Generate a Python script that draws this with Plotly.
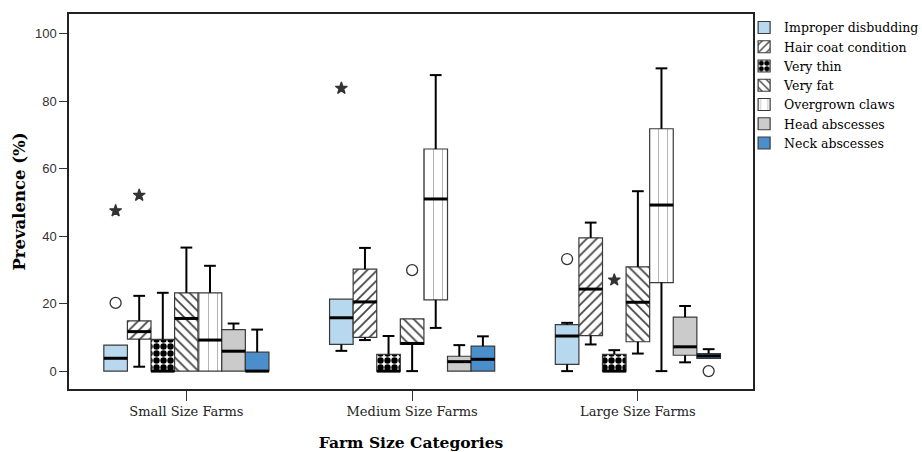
import plotly.graph_objects as go

# Farm size groups on the x axis
groups = ["Small Size Farms", "Medium Size Farms", "Large Size Farms"]

# Conditions (one box per condition in each group)
conditions = ["Improper disbudding", "Hair coat condition", "Very thin", "Very fat",
              "Overgrown claws", "Head abscesses", "Neck abscesses"]

# Box statistics per condition, ordered Small, Medium, Large
lower = {
    "Improper disbudding": [0.0, 6.0, 0.0],
    "Hair coat condition": [1.3, 9.2, 7.9],
    "Very thin":           [0.0, 0.0, 0.0],
    "Very fat":            [0.0, 0.0, 5.2],
    "Overgrown claws":     [0.0, 12.8, 0.0],
    "Head abscesses":      [0.0, 0.0, 2.6],
    "Neck abscesses":      [0.0, 0.0, 3.8],
}
q1 = {
    "Improper disbudding": [0.0, 7.9, 2.0],
    "Hair coat condition": [9.5, 10.0, 10.5],
    "Very thin":           [0.0, 0.0, 0.0],
    "Very fat":            [0.0, 8.0, 8.7],
    "Overgrown claws":     [0.0, 21.1, 26.2],
    "Head abscesses":      [0.0, 0.0, 4.7],
    "Neck abscesses":      [0.0, 0.0, 3.8],
}
median = {
    "Improper disbudding": [3.8, 15.8, 10.4],
    "Hair coat condition": [11.7, 20.5, 24.3],
    "Very thin":           [0.0, 0.0, 0.0],
    "Very fat":            [15.6, 8.2, 20.4],
    "Overgrown claws":     [9.2, 51.0, 49.2],
    "Head abscesses":      [5.9, 2.8, 7.2],
    "Neck abscesses":      [0.0, 3.5, 4.5],
}
q3 = {
    "Improper disbudding": [7.7, 21.3, 13.8],
    "Hair coat condition": [14.9, 30.2, 39.5],
    "Very thin":           [9.4, 5.0, 5.0],
    "Very fat":            [23.2, 15.5, 30.9],
    "Overgrown claws":     [23.2, 65.8, 71.8],
    "Head abscesses":      [12.3, 4.4, 16.0],
    "Neck abscesses":      [5.6, 7.4, 5.2],
}
upper = {
    "Improper disbudding": [7.7, 21.3, 14.3],
    "Hair coat condition": [22.3, 36.5, 44.0],
    "Very thin":           [23.2, 10.4, 6.2],
    "Very fat":            [36.6, 15.5, 53.3],
    "Overgrown claws":     [31.2, 87.7, 89.7],
    "Head abscesses":      [14.1, 7.7, 19.3],
    "Neck abscesses":      [12.3, 10.3, 6.5],
}

# Outliers: condition, group index, value, kind
out_condition = ["Improper disbudding", "Improper disbudding", "Hair coat condition",
                 "Improper disbudding", "Very fat",
                 "Improper disbudding", "Very thin", "Neck abscesses"]
out_group = [0, 0, 0, 1, 1, 2, 2, 2]
out_value = [20.2, 47.5, 52.1, 83.8, 29.9, 33.2, 27.0, 0.0]
out_kind = ["circle", "star", "star", "star", "circle", "circle", "star", "circle"]

# Fill styles for each condition
styles = {
    "Improper disbudding": dict(color="#b7d8ef", pattern=dict(shape="")),
    "Hair coat condition": dict(color="white", pattern=dict(shape="/", fgcolor="#444", bgcolor="white",
                                                           size=7, solidity=0.25, fillmode="replace")),
    "Very thin":           dict(color="white", pattern=dict(shape=".", fgcolor="black", bgcolor="white",
                                                           size=7, solidity=0.65, fillmode="replace")),
    "Very fat":            dict(color="white", pattern=dict(shape="\\", fgcolor="#444", bgcolor="white",
                                                           size=7, solidity=0.25, fillmode="replace")),
    "Overgrown claws":     dict(color="white", pattern=dict(shape="|", fgcolor="#aaa", bgcolor="white",
                                                           size=9, solidity=0.1, fillmode="replace")),
    "Head abscesses":      dict(color="#cbcbcb", pattern=dict(shape="")),
    "Neck abscesses":      dict(color="#4a8fcb", pattern=dict(shape="")),
}

SERIF = "DejaVu Serif"
BOX_W = 0.1045
CAP = 0.026
n = len(conditions)

fig = go.Figure()

for i, c in enumerate(conditions):
    xs = [g + (i - (n - 1) / 2) * BOX_W for g in range(len(groups))]
    st = styles[c]
    fig.add_trace(go.Bar(
        x=xs, base=q1[c], y=[b - a for a, b in zip(q1[c], q3[c])], width=BOX_W,
        name=c,
        marker=dict(color=st["color"], pattern=st["pattern"],
                    line=dict(color="#3a3a3a", width=1.2)),
        hoverinfo="skip",
    ))

for i, c in enumerate(conditions):
    xs = [g + (i - (n - 1) / 2) * BOX_W for g in range(len(groups))]
    wx, wy, mx, my = [], [], [], []
    for k, x in enumerate(xs):
        if upper[c][k] > q3[c][k]:
            wx += [x, x, None, x - CAP, x + CAP, None]
            wy += [q3[c][k], upper[c][k], None, upper[c][k], upper[c][k], None]
        if lower[c][k] < q1[c][k]:
            wx += [x, x, None, x - CAP, x + CAP, None]
            wy += [q1[c][k], lower[c][k], None, lower[c][k], lower[c][k], None]
        mx += [x - BOX_W / 2, x + BOX_W / 2, None]
        my += [median[c][k], median[c][k], None]
    fig.add_trace(go.Scatter(x=wx, y=wy, mode="lines", line=dict(color="black", width=2),
                             showlegend=False, hoverinfo="skip"))
    fig.add_trace(go.Scatter(x=mx, y=my, mode="lines", line=dict(color="black", width=3),
                             showlegend=False, hoverinfo="skip"))

ox = [g + (conditions.index(c) - (n - 1) / 2) * BOX_W for c, g in zip(out_condition, out_group)]
for kind, sym, size in [("circle", "circle-open", 11), ("star", "star", 9)]:
    sel = [j for j, k in enumerate(out_kind) if k == kind]
    fig.add_trace(go.Scatter(
        x=[ox[j] for j in sel], y=[out_value[j] for j in sel], mode="markers",
        marker=dict(symbol=sym, size=size, color="#333", line=dict(color="#333", width=1.3)),
        showlegend=False, hoverinfo="skip",
    ))

fig.update_layout(
    width=922, height=452,
    margin=dict(l=69, r=169, t=14, b=63, autoexpand=False),
    paper_bgcolor="white", plot_bgcolor="white",
    barmode="overlay",
    font=dict(family=SERIF, color="black", size=13),
    legend=dict(x=0.987, xanchor="left", y=1.003, yanchor="top",
                font=dict(family=SERIF, size=12.5, color="black"),
                bgcolor="rgba(0,0,0,0)", borderwidth=0, tracegroupgap=0),
    xaxis=dict(range=[-0.52, 2.51], tickmode="array", tickvals=list(range(len(groups))),
               ticktext=groups, ticks="outside", ticklen=10, tickcolor="#333",
               showline=True, mirror=True, linecolor="#222", linewidth=1.5,
               showgrid=False, zeroline=False,
               tickfont=dict(family=SERIF, size=13, color="#222"),
               title=dict(text="<b>Farm Size Categories</b>",
                          font=dict(family=SERIF, size=15.5, color="black"),
                          standoff=32)),
    yaxis=dict(range=[-5.3, 105.8], tickmode="linear", tick0=0, dtick=20,
               ticks="outside", ticklen=8, tickcolor="#333",
               showline=True, mirror=True, linecolor="#222", linewidth=1.5,
               showgrid=False, zeroline=False,
               tickfont=dict(family="Liberation Sans", size=13, color="#333"),
               title=dict(text="<b>Prevalence (%)</b>",
                          font=dict(family=SERIF, size=16.5, color="black"),
                          standoff=5)),
)

fig.write_html("out.html")
